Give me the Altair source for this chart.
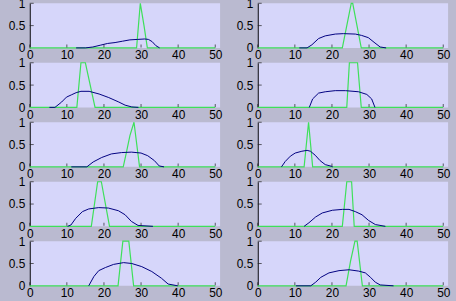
import altair as alt
import pandas as pd

# ---- axis ticks -----------------------------------------------------------
X_TICKS = [0, 10, 20, 30, 40, 50]
Y_TICKS = [0, 0.5, 1]
X_INNER_TICKS = [0, 10, 20, 30, 40, 50]
Y_INNER_TICKS = [0.5, 1]
X_MAX = 51.3

# ---- panel data (row/col) : blue = wide curve, green = narrow peak -------
L1_blue_x = [12.5, 15, 17, 19, 21, 23, 25, 27, 29, 31, 32, 33, 34, 35]
L1_blue_y = [0, 0, 0.02, 0.06, 0.10, 0.12, 0.15, 0.18, 0.19, 0.20, 0.19, 0.14, 0.05, 0]
L1_green_x = [0, 28.8, 29.8, 30.8, 31.7, 50]
L1_green_y = [0, 0, 1, 0.5, 0, 0]

R1_blue_x = [11.2, 13.3, 14.6, 16.4, 18.2, 20.9, 23.1, 26.3, 28, 29.8, 31.6, 33, 34.6]
R1_blue_y = [0, 0, 0.07, 0.21, 0.27, 0.31, 0.32, 0.31, 0.28, 0.23, 0.11, 0.02, 0]
R1_green_x = [0, 22.8, 25.2, 25.6, 27.9, 50]
R1_green_y = [0, 0, 1, 1, 0, 0]

L2_blue_x = [5.3, 6.8, 8.6, 9.9, 11.2, 12.5, 13.8, 16, 18.7, 21.3, 24, 25.7, 27.5, 29.3]
L2_blue_y = [0, 0, 0.12, 0.23, 0.28, 0.33, 0.36, 0.36, 0.30, 0.22, 0.12, 0.05, 0.01, 0]
L2_green_x = [0, 12.7, 13.8, 15, 17.6, 50]
L2_green_y = [0, 0, 1, 1, 0, 0]

R2_blue_x = [13.9, 14.8, 16.4, 18.2, 20.9, 23.6, 27.2, 29.4, 30.7, 31.6]
R2_blue_y = [0, 0.19, 0.32, 0.35, 0.375, 0.375, 0.35, 0.29, 0.19, 0]
R2_green_x = [0, 24, 24.7, 26.9, 27.9, 50]
R2_green_y = [0, 0, 1, 1, 0, 0]

L3_blue_x = [11.2, 15.4, 17.1, 19.4, 22, 24.7, 27.4, 30, 31.8, 33.6, 34.9, 36.2]
L3_blue_y = [0, 0, 0.11, 0.21, 0.29, 0.32, 0.33, 0.31, 0.25, 0.14, 0.02, 0]
L3_green_x = [0, 25.2, 26, 27, 28.1, 29.6, 50]
L3_green_y = [0, 0, 0.3, 0.7, 1, 0, 0]

R3_blue_x = [6.4, 7.4, 8.8, 10.1, 11.9, 13.3, 14.2, 15.5, 16.8, 18.2, 20, 20.2]
R3_blue_y = [0, 0.12, 0.24, 0.31, 0.35, 0.37, 0.35, 0.26, 0.14, 0.05, 0.01, 0]
R3_green_x = [0, 12.5, 13.7, 14.8, 50]
R3_green_y = [0, 0, 1, 0, 0]

L4_blue_x = [10.2, 11.1, 12.4, 14.2, 15.9, 18.6, 21.2, 23.9, 25.7, 27.4, 29.2, 33.2]
L4_blue_y = [0, 0.03, 0.18, 0.33, 0.39, 0.42, 0.41, 0.35, 0.26, 0.11, 0.02, 0]
L4_green_x = [0, 16.6, 18.3, 19.3, 21.5, 50]
L4_green_y = [0, 0, 1, 1, 0, 0]

R4_blue_x = [12.5, 13.8, 15.6, 17.4, 20.1, 22.8, 24.6, 26.3, 28.1, 29.9, 31.7, 34.4]
R4_blue_y = [0, 0.08, 0.21, 0.30, 0.36, 0.38, 0.38, 0.33, 0.26, 0.13, 0.04, 0]
R4_green_x = [0, 22.8, 24, 25.3, 26, 50]
R4_green_y = [0, 0, 1, 1, 0, 0]

L5_blue_x = [15.9, 17.3, 18.6, 20.4, 22.6, 25.3, 27.5, 30.2, 32.9, 35.5, 37.3, 39.9]
L5_blue_y = [0, 0.21, 0.34, 0.41, 0.48, 0.52, 0.50, 0.43, 0.32, 0.17, 0.04, 0]
L5_green_x = [0, 23.8, 25.1, 26.7, 28, 50]
L5_green_y = [0, 0, 1, 1, 0, 0]

R5_blue_x = [10.3, 14.3, 15.6, 17, 19.2, 21.9, 24.6, 27.2, 29, 30.4, 31.7, 33, 36.6]
R5_blue_y = [0, 0, 0.08, 0.19, 0.29, 0.34, 0.36, 0.33, 0.29, 0.19, 0.08, 0.02, 0]
R5_green_x = [0, 23.8, 25, 26.2, 26.8, 28.2, 50]
R5_green_y = [0, 0, 0.55, 1, 1, 0, 0]

PANELS = {
    "L1": (L1_blue_x, L1_blue_y, L1_green_x, L1_green_y),
    "R1": (R1_blue_x, R1_blue_y, R1_green_x, R1_green_y),
    "L2": (L2_blue_x, L2_blue_y, L2_green_x, L2_green_y),
    "R2": (R2_blue_x, R2_blue_y, R2_green_x, R2_green_y),
    "L3": (L3_blue_x, L3_blue_y, L3_green_x, L3_green_y),
    "R3": (R3_blue_x, R3_blue_y, R3_green_x, R3_green_y),
    "L4": (L4_blue_x, L4_blue_y, L4_green_x, L4_green_y),
    "R4": (R4_blue_x, R4_blue_y, R4_green_x, R4_green_y),
    "L5": (L5_blue_x, L5_blue_y, L5_green_x, L5_green_y),
    "R5": (R5_blue_x, R5_blue_y, R5_green_x, R5_green_y),
}
ORDER = ["L1", "R1", "L2", "R2", "L3", "R3", "L4", "R4", "L5", "R5"]

rows = []
for pid, (bx, by, gx, gy) in PANELS.items():
    for i, (a, b) in enumerate(zip(gx, gy)):
        rows.append({"panel": pid, "series": "green", "i": i, "x": a, "y": b})
    for i, (a, b) in enumerate(zip(bx, by)):
        rows.append({"panel": pid, "series": "blue", "i": i, "x": a, "y": b})
df = pd.DataFrame(rows)
xt_df = pd.DataFrame({"t": X_INNER_TICKS})
yt_df = pd.DataFrame({"t": Y_INNER_TICKS})

BG = "#babad0"
LAV = "#d6d6fa"
BLUE = "#000080"
GREEN = "#3ee05a"
W, H = 192, 45

xs = alt.Scale(domain=[0, X_MAX], nice=False, zero=False)
ys = alt.Scale(domain=[0, 1], nice=False)

X_AXIS = alt.Axis(values=X_TICKS, format="d", domain=False, ticks=False,
                  labelPadding=2, grid=False, labelFlush=False, labelOverlap=False,
                  title=None)
Y_AXIS = alt.Axis(values=Y_TICKS, format="~g", ticks=False, labelPadding=5,
                  domainColor="black", grid=False, labelOverlap=False,
                  labelFlush=False, title=None)


def panel(pid):
    base = alt.Chart(df).transform_filter(alt.datum.panel == pid)
    xenc = alt.X("x:Q", scale=xs, axis=X_AXIS)
    yenc = alt.Y("y:Q", scale=ys, axis=Y_AXIS)
    green = base.transform_filter(alt.datum.series == "green").mark_line(
        color=GREEN, strokeWidth=1.2).encode(x=xenc, y=yenc, order="i:Q")
    blue = base.transform_filter(alt.datum.series == "blue").mark_line(
        color=BLUE, strokeWidth=1).encode(x=xenc, y=yenc, order="i:Q")
    xt = alt.Chart(xt_df).mark_tick(color="#202020", size=3, thickness=1).encode(
        x=alt.X("t:Q", scale=xs, axis=X_AXIS), y=alt.value(H - 2))
    yt = alt.Chart(yt_df).mark_tick(color="#202020", size=4, thickness=1).encode(
        y=alt.Y("t:Q", scale=ys, axis=Y_AXIS), x=alt.value(2))
    return alt.layer(green, blue, xt, yt).properties(width=W, height=H)


chart = alt.concat(*[panel(p) for p in ORDER], columns=2,
                   spacing={"row": 15, "column": 38}, bounds="flush").properties(
    background=BG,
    padding={"left": 8, "top": -4, "right": 6, "bottom": 2},
).configure_view(fill=LAV, strokeWidth=0).configure_axis(
    labelFont="Liberation Sans", labelFontSize=12, labelColor="black")

chart.save("out.html", embed_options={"renderer": "svg", "actions": False})
